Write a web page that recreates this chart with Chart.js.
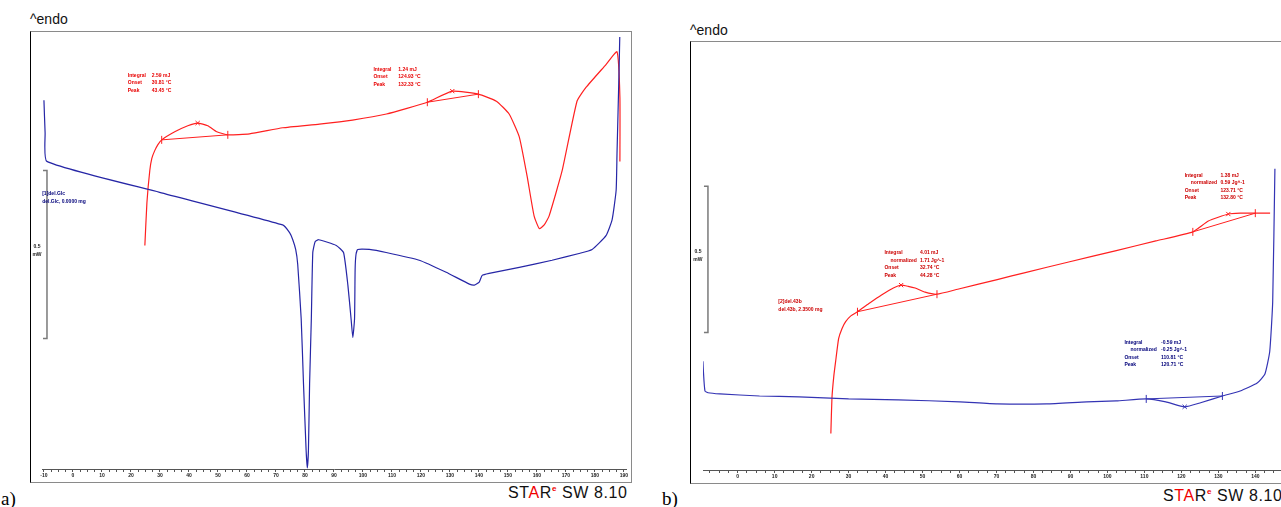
<!DOCTYPE html>
<html>
<head>
<meta charset="utf-8">
<title>DSC curves</title>
<script src="https://cdn.jsdelivr.net/npm/chart.js@4.4.1/dist/chart.umd.min.js"></script>
<style>
  html, body { margin: 0; padding: 0; background: #fff; overflow: hidden; }
  body { width: 1281px; height: 507px; position: relative; font-family: Arial, "Liberation Sans", sans-serif; }
  .frame { position: absolute; border: 1px solid #8a8a8a; border-left-color: #000; }
  #frameA { left: 30px; top: 31px; width: 600px; height: 450px; }
  #frameB { left: 690px; top: 41px; width: 640px; height: 441px; }
  canvas { position: absolute; }
  #chartA { left: 31px; top: 32px; }
  #chartB { left: 691px; top: 42px; }
  .endo { position: absolute; font-size: 14px; line-height: 1; color: #111; }
  .tag { position: absolute; font-family: "Liberation Serif", "Times New Roman", serif; font-size: 19px; line-height: 1; color: #000; }
  .star { position: absolute; font-size: 16px; line-height: 1; letter-spacing: 0.6px; color: #111; white-space: nowrap; }
  .star .r { color: #f00000; }
  .star .e { color: #f00000; font-size: 8px; font-weight: bold; position: relative; top: -7px; }
</style>
</head>
<body>
<div class="endo" style="left:30px;top:12px">^endo</div>
<div class="endo" style="left:690px;top:23px">^endo</div>
<div class="frame" id="frameA"></div>
<div class="frame" id="frameB"></div>
<canvas id="chartA" width="600" height="450"></canvas>
<canvas id="chartB" width="600" height="441"></canvas>
<div class="tag" style="left:1px;top:489px">a)</div>
<div class="tag" style="left:662px;top:489px">b)</div>
<div class="star" style="left:508px;top:485px">ST<span class="r">A</span>R<span class="e">e</span> SW 8.10</div>
<div class="star" style="left:1163px;top:488px">S<span class="r">TA</span>R<span class="e">e</span> SW 8.10</div>

<script>
// ---- a) temperatures (°C) and heat flow (mW, arbitrary offset) ----
const blueA_T = [-10.0, -9.6, -9.0, 29.9, 72.3, 74.7, 75.8, 76.8, 77.5, 78.7, 79.5, 80.4, 80.8, 81.2, 81.6, 82.2, 82.7, 83.5, 84.7, 90.8, 93.3, 94.8, 95.9, 96.5, 97.1, 97.3, 97.6, 98.2, 102.2, 108.0, 119.4, 128.7, 136.7, 138.4, 140.1, 141.1, 143.5, 153.9, 165.2, 174.5, 179.0, 183.8, 185.9, 187.3, 187.6, 188.3, 188.6];
const blueA_mW = [1.097, 1.000, 0.915, 0.823, 0.726, 0.703, 0.682, 0.653, 0.609, 0.447, 0.253, 0.056, 0.003, 0.056, 0.253, 0.447, 0.644, 0.676, 0.682, 0.665, 0.644, 0.547, 0.447, 0.391, 0.447, 0.594, 0.638, 0.653, 0.653, 0.644, 0.621, 0.585, 0.550, 0.547, 0.556, 0.576, 0.582, 0.600, 0.621, 0.641, 0.653, 0.694, 0.741, 0.829, 0.938, 1.182, 1.306];

const redA_T = [24.8, 25.5, 26.5, 27.2, 28.2, 29.3, 30.6, 35.1, 39.6, 43.0, 46.5, 49.6, 53.4, 60.9, 72.3, 85.0, 96.4, 108.1, 122.2, 130.8, 139.8, 146.0, 150.4, 153.9, 156.6, 159.0, 160.8, 162.5, 164.2, 168.7, 173.8, 176.9, 183.8, 187.6, 188.6, 188.6];
const redA_mW = [0.665, 0.791, 0.888, 0.924, 0.947, 0.965, 0.979, 1.003, 1.021, 1.029, 1.021, 1.003, 0.994, 0.997, 1.015, 1.026, 1.038, 1.056, 1.091, 1.124, 1.115, 1.094, 1.056, 0.988, 0.871, 0.753, 0.715, 0.726, 0.753, 0.888, 1.094, 1.135, 1.203, 1.241, 1.106, 0.915];

// integration limits (baseline start/end) and peaks for a)
const limitsA_T = [[30.6, 53.4], [122.2, 139.8]];
const limitsA_mW = [[0.979, 0.994], [1.091, 1.115]];
const peaksA_T = [43.0, 130.8];
const peaksA_mW = [1.029, 1.124];

// ---- b) ----
const blueB_T = [-9.65, -9.4, -8.85, -8.0, -4.8, 5.9, 16.6, 30.0, 43.4, 60.1, 70.2, 83.6, 94.4, 102.4, 110.5, 115.8, 120.9, 125.2, 131.1, 135.9, 140.5, 142.6, 143.9, 144.7, 145.3];
const blueB_mW = [0.490, 0.372, 0.270, 0.264, 0.260, 0.253, 0.250, 0.243, 0.240, 0.233, 0.226, 0.226, 0.233, 0.236, 0.243, 0.233, 0.216, 0.230, 0.253, 0.270, 0.297, 0.328, 0.405, 0.574, 1.030];

const redB_T = [25.2, 25.5, 26.0, 26.5, 27.3, 28.2, 29.2, 30.6, 32.4, 35.4, 38.9, 42.1, 44.2, 46.1, 48.0, 50.7, 53.9, 59.5, 70.2, 77.5, 89.8, 102.4, 113.1, 123.1, 127.3, 132.7, 135.9, 140.0, 144.0];
const redB_mW = [0.125, 0.247, 0.321, 0.372, 0.449, 0.483, 0.507, 0.527, 0.541, 0.568, 0.598, 0.622, 0.632, 0.628, 0.622, 0.608, 0.601, 0.618, 0.651, 0.674, 0.712, 0.750, 0.783, 0.814, 0.851, 0.875, 0.878, 0.878, 0.878];

const limitsBred_T = [[32.4, 53.9], [123.1, 140.0]];
const limitsBred_mW = [[0.541, 0.601], [0.814, 0.878]];
const peaksBred_T = [44.2, 132.7];
const peaksBred_mW = [0.632, 0.875];
const limitsBblue_T = [[110.5, 131.1]];
const limitsBblue_mW = [[0.243, 0.253]];
const peaksBblue_T = [120.9];
const peaksBblue_mW = [0.216];

const RED = '#ff2020';
const BLUE_A = '#2626a6';
const BLUE_B = '#3434b4';

function pts(xs, ys) {
  return xs.map((x, i) => ({ x: x, y: ys[i] }));
}

function curve(xs, ys, color) {
  return { data: pts(xs, ys), borderColor: color, borderWidth: 1.2, pointRadius: 0, showLine: true, tension: 0.15 };
}

// baseline segment plus the little end ticks
function limits(xsList, ysList, color) {
  const out = [];
  xsList.forEach((xs, i) => {
    out.push({ data: pts(xs, ysList[i]), borderColor: color, borderWidth: 1, showLine: true, tension: 0,
      pointStyle: 'line', rotation: 90, pointRadius: 4, pointBorderColor: color, pointBorderWidth: 1 });
  });
  return out;
}

function peaks(xs, ys, color) {
  return { data: pts(xs, ys), showLine: false, pointStyle: 'crossRot', pointRadius: 3,
    pointBorderColor: color, pointBorderWidth: 1, borderColor: color };
}

// draws the 0.5 mW bar and the evaluation texts, anchored on the scales
const notesPlugin = {
  id: 'notes',
  afterDatasetsDraw(chart, args, opts) {
    const ctx = chart.ctx;
    const x = chart.scales.x, y = chart.scales.y;
    ctx.save();
    const bx = x.getPixelForValue(opts.bar.x);
    const top = y.getPixelForValue(opts.bar.from + opts.bar.size);
    const bottom = y.getPixelForValue(opts.bar.from);
    ctx.strokeStyle = '#7a7a7a';
    ctx.lineWidth = 1.5;
    ctx.beginPath();
    ctx.moveTo(bx - 4, top);
    ctx.lineTo(bx, top);
    ctx.lineTo(bx, bottom);
    ctx.lineTo(bx - 4, bottom);
    ctx.stroke();

    ctx.fillStyle = '#222';
    ctx.font = 'bold 5px Arial';
    ctx.textAlign = 'center';
    ctx.textBaseline = 'middle';
    const mid = (top + bottom) / 2;
    ctx.fillText(String(opts.bar.size), bx - 10, mid - 8);
    ctx.fillText('mW', bx - 10, mid);

    ctx.textAlign = 'left';
    ctx.font = 'bold 5px Arial';
    opts.notes.forEach(n => {
      const px = x.getPixelForValue(n.x);
      const vx = n.dx ? x.getPixelForValue(n.x + n.dx) : 0;
      const py = y.getPixelForValue(n.y);
      ctx.fillStyle = n.color;
      n.rows.forEach((r, i) => {
        const indent = r[0] === 'normalized' ? 6 : 0;
        ctx.fillText(r[0], px + indent, py + i * 7.5);
        if (r[1]) ctx.fillText(r[1], vx, py + i * 7.5);
      });
    });
    ctx.restore();
  }
};

function makeChart(id, datasets, xmin, xmax, ymax, pad, notes) {
  return new Chart(document.getElementById(id), {
    type: 'scatter',
    data: { datasets: datasets },
    options: {
      responsive: false,
      animation: false,
      events: [],
      layout: { padding: { left: pad[0], right: pad[1], top: 0, bottom: 0 } },
      plugins: { legend: { display: false }, tooltip: { enabled: false }, notes: notes },
      scales: {
        x: {
          type: 'linear',
          min: xmin,
          max: xmax,
          afterFit(s) { s.paddingLeft = 0; s.paddingRight = 0; s.height = 13; },
          border: { color: '#555', width: 1 },
          grid: { drawOnChartArea: false, tickLength: 3, color: '#555' },
          ticks: {
            stepSize: 2.5,
            includeBounds: false,
            autoSkip: false,
            minRotation: 0,
            maxRotation: 0,
            padding: 1,
            color: '#222',
            font: { family: 'Arial', size: 5, weight: 'bold' },
            callback: v => (v % 10 === 0 ? v : '')
          }
        },
        y: { display: false, min: 0, max: ymax }
      }
    },
    plugins: [notesPlugin]
  });
}

document.addEventListener('DOMContentLoaded', function () {
  makeChart('chartA', [
    curve(blueA_T, blueA_mW, BLUE_A),
    curve(redA_T, redA_mW, RED),
    ...limits(limitsA_T, limitsA_mW, RED),
    peaks(peaksA_T, peaksA_mW, RED)
  ], -10.67, 190.7, 1.285, [11, 4], {
    bar: { x: -8.95, from: 0.388, size: 0.5 },
    notes: [
      { x: 18.9, y: 1.171, dx: 8.3, color: '#e80000', rows: [['Integral', '2.59 mJ'], ['Onset', '30.81 °C'], ['Peak', '43.45 °C']] },
      { x: 103.6, y: 1.188, dx: 8.6, color: '#e80000', rows: [['Integral', '1.24 mJ'], ['Onset', '124.93 °C'], ['Peak', '132.33 °C']] },
      { x: -10.6, y: 0.818, color: '#00007a', rows: [['[1]del.Glc'], ['del.Glc, 0.0000 mg']] }
    ]
  });

  makeChart('chartB', [
    curve(blueB_T, blueB_mW, BLUE_B),
    curve(redB_T, redB_mW, RED),
    ...limits(limitsBred_T, limitsBred_mW, RED),
    peaks(peaksBred_T, peaksBred_mW, RED),
    ...limits(limitsBblue_T, limitsBblue_mW, BLUE_B),
    peaks(peaksBblue_T, peaksBblue_mW, BLUE_B)
  ], -9.38, 148.3, 1.446, [12, 0], {
    bar: { x: -8.04, from: 0.470, size: 0.5 },
    notes: [
      { x: 39.7, y: 0.743, dx: 9.6, color: '#cc0000', rows: [['Integral', '4.01 mJ'], ['normalized', '1.71 Jg^-1'], ['Onset', '32.74 °C'], ['Peak', '44.28 °C']] },
      { x: 120.9, y: 1.007, dx: 9.7, color: '#cc0000', rows: [['Integral', '1.38 mJ'], ['normalized', '0.59 Jg^-1'], ['Onset', '123.71 °C'], ['Peak', '132.80 °C']] },
      { x: 104.6, y: 0.436, dx: 9.9, color: '#00007a', rows: [['Integral', '-0.59 mJ'], ['normalized', '-0.25 Jg^-1'], ['Onset', '110.81 °C'], ['Peak', '120.71 °C']] },
      { x: 11.0, y: 0.574, color: '#cc0000', rows: [['[2]del.43b'], ['del.43b, 2.3500 mg']] }
    ]
  });
});
</script>
</body>
</html>
